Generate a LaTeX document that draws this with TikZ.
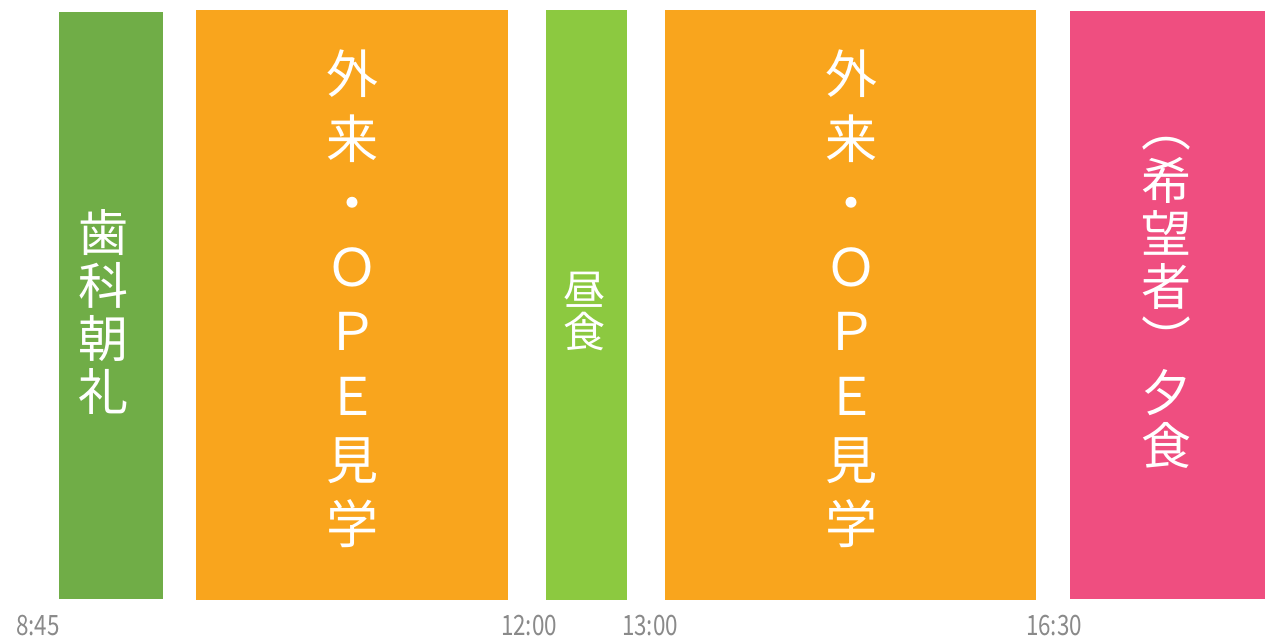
\documentclass[tikz,border=0pt]{standalone}
\usepackage{fontspec}
\newfontfamily\jp{Noto Sans CJK JP}
\newfontfamily\lab[FakeStretch=0.8]{Noto Sans CJK JP}
\definecolor{cgreen}{HTML}{70AD47}
\definecolor{corange}{HTML}{F9A51D}
\definecolor{clime}{HTML}{8CC940}
\definecolor{cpink}{HTML}{EF4E80}
\definecolor{cgray}{HTML}{8A8A8A}
\tikzset{
  block/.style={fill=#1, draw=none},
  vtext/.style={text=white, align=center, inner sep=0pt, font=\jp},
  timelabel/.style={text=cgray, inner sep=0pt, font=\lab\fontsize{28}{30}\selectfont}
}
\begin{document}
\begin{tikzpicture}[x=1pt,y=-1pt]
\useasboundingbox (0,0) rectangle (1265,637);
\fill[white] (0,0) rectangle (1265,637);
\path[block=cgreen] (59,12) rectangle (163,599);
\path[block=corange] (196,10) rectangle (508,600);
\path[block=clime] (546,10) rectangle (627,600);
\path[block=corange] (665,10) rectangle (1036,600);
\path[block=cpink] (1070,11) rectangle (1265,599);
\node[vtext, font=\jp\fontsize{50}{53}\selectfont] (t1) at (103,312) {歯\\科\\朝\\礼};
\node[vtext, font=\jp\fontsize{52}{64.3}\selectfont] (t2) at (352,299) {外\\来\\・\\Ｏ\\Ｐ\\Ｅ\\見\\学};
\node[vtext, font=\jp\fontsize{42}{42}\selectfont] (t3) at (584,311) {昼\\食};
\node[vtext, font=\jp\fontsize{52}{64.3}\selectfont] (t4) at (851,299) {外\\来\\・\\Ｏ\\Ｐ\\Ｅ\\見\\学};
\node[vtext, font=\jp\fontsize{50}{53}\selectfont] (t5) at (1166,303) {︵\\希\\望\\者\\︶\\夕\\食};
\node[timelabel] (l1) at (38,626) {8:45};
\node[timelabel] (l2) at (529,626) {12:00};
\node[timelabel] (l3) at (650,626) {13:00};
\node[timelabel] (l4) at (1054,626) {16:30};
\end{tikzpicture}
\end{document}
